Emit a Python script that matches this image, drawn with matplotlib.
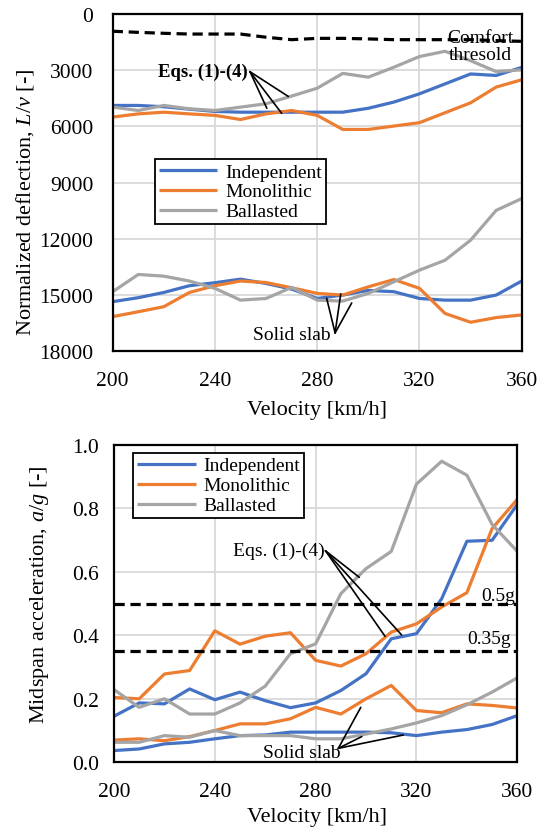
import matplotlib
matplotlib.use("Agg")
import matplotlib.pyplot as plt

plt.rcParams['font.family'] = ['Liberation Serif', 'DejaVu Serif']
plt.rcParams['mathtext.fontset'] = 'custom'
plt.rcParams['mathtext.it'] = 'Liberation Serif:italic'
plt.rcParams['mathtext.rm'] = 'Liberation Serif'

# ---------------- data ----------------
velocity = [200, 210, 220, 230, 240, 250, 260, 270, 280, 290, 300, 310, 320, 330, 340, 350, 360]

# Normalized deflection L/v, Eqs. (1)-(4)
defl_eq_independent = [4880, 4880, 4950, 5080, 5200, 5240, 5240, 5240, 5240, 5240, 5030, 4700, 4260, 3730, 3200, 3280, 2850]
defl_eq_monolithic = [5500, 5330, 5240, 5330, 5410, 5630, 5330, 5150, 5410, 6160, 6160, 5980, 5800, 5270, 4740, 3900, 3510]
defl_eq_ballasted = [4970, 5150, 4880, 5060, 5150, 4970, 4790, 4380, 3960, 3170, 3370, 2840, 2270, 1990, 2490, 3070, 2980]
# Normalized deflection L/v, solid slab
defl_ss_independent = [15350, 15140, 14860, 14500, 14340, 14150, 14380, 14680, 15180, 15000, 14750, 14820, 15180, 15270, 15270, 15000, 14250]
defl_ss_monolithic = [16150, 15890, 15620, 14860, 14500, 14250, 14330, 14610, 14910, 15000, 14560, 14170, 14640, 15980, 16450, 16200, 16060]
defl_ss_ballasted = [14820, 13900, 13990, 14250, 14640, 15270, 15180, 14590, 15270, 15320, 14910, 14290, 13670, 13140, 12070, 10480, 9850]
# Comfort threshold
comfort_threshold = [920, 980, 1030, 1070, 1070, 1070, 1240, 1370, 1300, 1300, 1330, 1370, 1370, 1370, 1370, 1420, 1460]

# Midspan acceleration a/g, Eqs. (1)-(4)
acc_eq_independent = [0.145, 0.187, 0.184, 0.231, 0.197, 0.221, 0.194, 0.172, 0.187, 0.226, 0.279, 0.389, 0.405, 0.515, 0.696, 0.699, 0.812]
acc_eq_monolithic = [0.204, 0.200, 0.278, 0.289, 0.414, 0.372, 0.397, 0.408, 0.321, 0.303, 0.342, 0.410, 0.436, 0.489, 0.534, 0.736, 0.828]
acc_eq_ballasted = [0.229, 0.173, 0.200, 0.152, 0.152, 0.187, 0.240, 0.342, 0.373, 0.531, 0.610, 0.664, 0.876, 0.948, 0.904, 0.749, 0.664]
# Midspan acceleration a/g, solid slab
acc_ss_independent = [0.037, 0.042, 0.058, 0.063, 0.074, 0.084, 0.086, 0.095, 0.095, 0.095, 0.095, 0.093, 0.084, 0.095, 0.103, 0.119, 0.147]
acc_ss_monolithic = [0.070, 0.074, 0.068, 0.081, 0.100, 0.121, 0.121, 0.137, 0.173, 0.152, 0.200, 0.242, 0.163, 0.156, 0.184, 0.179, 0.171]
acc_ss_ballasted = [0.063, 0.063, 0.084, 0.079, 0.100, 0.084, 0.084, 0.084, 0.074, 0.074, 0.089, 0.105, 0.124, 0.147, 0.181, 0.221, 0.266]
acc_limits = [0.5, 0.35]
acc_limit_labels = ['0.5g', '0.35g']

series_names = ['Independent', 'Monolithic', 'Ballasted']
colors = ['#4472C4', '#ED7D31', '#A5A5A5']

x_ticks = [200, 240, 280, 320, 360]
defl_ticks = [0, 3000, 6000, 9000, 12000, 15000, 18000]
acc_ticks = [0.0, 0.2, 0.4, 0.6, 0.8, 1.0]

# ---------------- figure ----------------
W, H = 543, 829
fig = plt.figure(figsize=(W / 100, H / 100), dpi=100)

def px_axes(l, t, r, b):
    return fig.add_axes([l / W, 1 - b / H, (r - l) / W, (b - t) / H])

LW = 2.3
FS_TICK = 15.5
FS_LAB = 16
FS_LEG = 14
FS_ANN = 14
grid_col = '#D9D9D9'

def style(ax, ypad):
    ax.grid(True, color=grid_col, lw=1.3)
    ax.set_axisbelow(True)
    for s in ax.spines.values():
        s.set_linewidth(1.6)
        s.set_color('black')
    ax.tick_params(length=0, labelsize=FS_TICK)
    ax.tick_params(axis='x', pad=14)
    ax.tick_params(axis='y', pad=ypad)
    ax.set_xlim(200, 360)
    ax.set_xticks(x_ticks)

# ---------- top chart ----------
ax1 = px_axes(112.7, 15, 521.7, 352.3)
style(ax1, 14)
ax1.set_ylim(18000, 0)
ax1.set_yticks(defl_ticks)
ax1.set_yticklabels([str(t) for t in defl_ticks])

eq_top = [defl_eq_independent, defl_eq_monolithic, defl_eq_ballasted]
ss_top = [defl_ss_independent, defl_ss_monolithic, defl_ss_ballasted]
handles = []
for name, c, yeq, yss in zip(series_names, colors, eq_top, ss_top):
    h, = ax1.plot(velocity, yeq, color=c, lw=LW, label=name, solid_capstyle='butt')
    ax1.plot(velocity, yss, color=c, lw=LW, solid_capstyle='butt')
    handles.append(h)
ax1.plot(velocity, comfort_threshold, color='black', lw=2.3, ls=(0, (3.2, 1.8)))

leg1 = ax1.legend(handles=handles, loc='upper left', bbox_to_anchor=(0.1034, 0.570),
                  borderaxespad=0, fontsize=FS_LEG, handlelength=3.0, handletextpad=0.4,
                  labelspacing=0.12, borderpad=0.2, fancybox=False, framealpha=1,
                  edgecolor='black')
leg1.get_frame().set_linewidth(1.3)

ax1.text(343.7, 1700, 'Comfort\nthresold', ha='center', va='center', fontsize=FS_ANN,
         linespacing=1.05)

ax1.text(252.9, 3079, 'Eqs. (1)-(4)', ha='right', va='center', fontsize=FS_ANN - 0.5, fontweight='bold')
for tgt in [(268.7, 4400), (260.3, 5032), (266.1, 5299)]:
    ax1.annotate('', xy=tgt, xytext=(253.7, 3079),
                 arrowprops=dict(arrowstyle='-', color='black', lw=1.2, shrinkA=0, shrinkB=0))

ax1.text(270.2, 17130, 'Solid slab', ha='center', va='center', fontsize=FS_ANN)
for tgt in [(283.7, 15170), (289.2, 14940), (293.5, 15420)]:
    ax1.annotate('', xy=tgt, xytext=(287.0, 17020),
                 arrowprops=dict(arrowstyle='-', color='black', lw=1.2, shrinkA=0, shrinkB=0))

fig.text(25 / W, 1 - 202 / H, 'Normalized deflection, $L/v$ [-]', rotation=90,
         ha='center', va='center', fontsize=FS_LAB)
fig.text(317 / W, 1 - 411 / H, 'Velocity [km/h]', ha='center', va='center', fontsize=FS_LAB)

# ---------- bottom chart ----------
ax2 = px_axes(114, 445.7, 517.3, 763.3)
style(ax2, 11)
ax2.set_ylim(0, 1.0)
ax2.set_yticks(acc_ticks)
ax2.set_yticklabels([f'{t:.1f}' for t in acc_ticks])

eq_bot = [acc_eq_independent, acc_eq_monolithic, acc_eq_ballasted]
ss_bot = [acc_ss_independent, acc_ss_monolithic, acc_ss_ballasted]
handles2 = []
for name, c, yeq, yss in zip(series_names, colors, eq_bot, ss_bot):
    h, = ax2.plot(velocity, yeq, color=c, lw=LW, label=name, solid_capstyle='butt')
    ax2.plot(velocity, yss, color=c, lw=LW, solid_capstyle='butt')
    handles2.append(h)
for lim in acc_limits:
    ax2.axhline(lim, color='black', lw=2.3, ls=(0, (3.2, 1.8)))
ax2.text(359, 0.525, acc_limit_labels[0], ha='right', va='center', fontsize=FS_ANN)
ax2.text(357.5, 0.39, acc_limit_labels[1], ha='right', va='center', fontsize=FS_ANN)

leg2 = ax2.legend(handles=handles2, loc='upper left', bbox_to_anchor=(0.048, 0.974),
                  borderaxespad=0, fontsize=FS_LEG, handlelength=3.0, handletextpad=0.4,
                  labelspacing=0.12, borderpad=0.2, fancybox=False, framealpha=1,
                  edgecolor='black')
leg2.get_frame().set_linewidth(1.3)

ax2.text(283.7, 0.666, 'Eqs. (1)-(4)', ha='right', va='center', fontsize=FS_ANN)
for tgt in [(297.3, 0.5825), (307.5, 0.397), (314.1, 0.401)]:
    ax2.annotate('', xy=tgt, xytext=(283.9, 0.666),
                 arrowprops=dict(arrowstyle='-', color='black', lw=1.2, shrinkA=0, shrinkB=0))

ax2.text(274.6, 0.031, 'Solid slab', ha='center', va='center', fontsize=FS_ANN)
for tgt in [(297.9, 0.173), (298.3, 0.081), (314.8, 0.086)]:
    ax2.annotate('', xy=tgt, xytext=(289.0, 0.044),
                 arrowprops=dict(arrowstyle='-', color='black', lw=1.2, shrinkA=0, shrinkB=0))

fig.text(40 / W, 1 - 595 / H, 'Midspan acceleration, $a/g$ [-]', rotation=90,
         ha='center', va='center', fontsize=FS_LAB)
fig.text(317 / W, 1 - 818 / H, 'Velocity [km/h]', ha='center', va='center', fontsize=FS_LAB)

fig.savefig('out.png', dpi=100, facecolor='white')
